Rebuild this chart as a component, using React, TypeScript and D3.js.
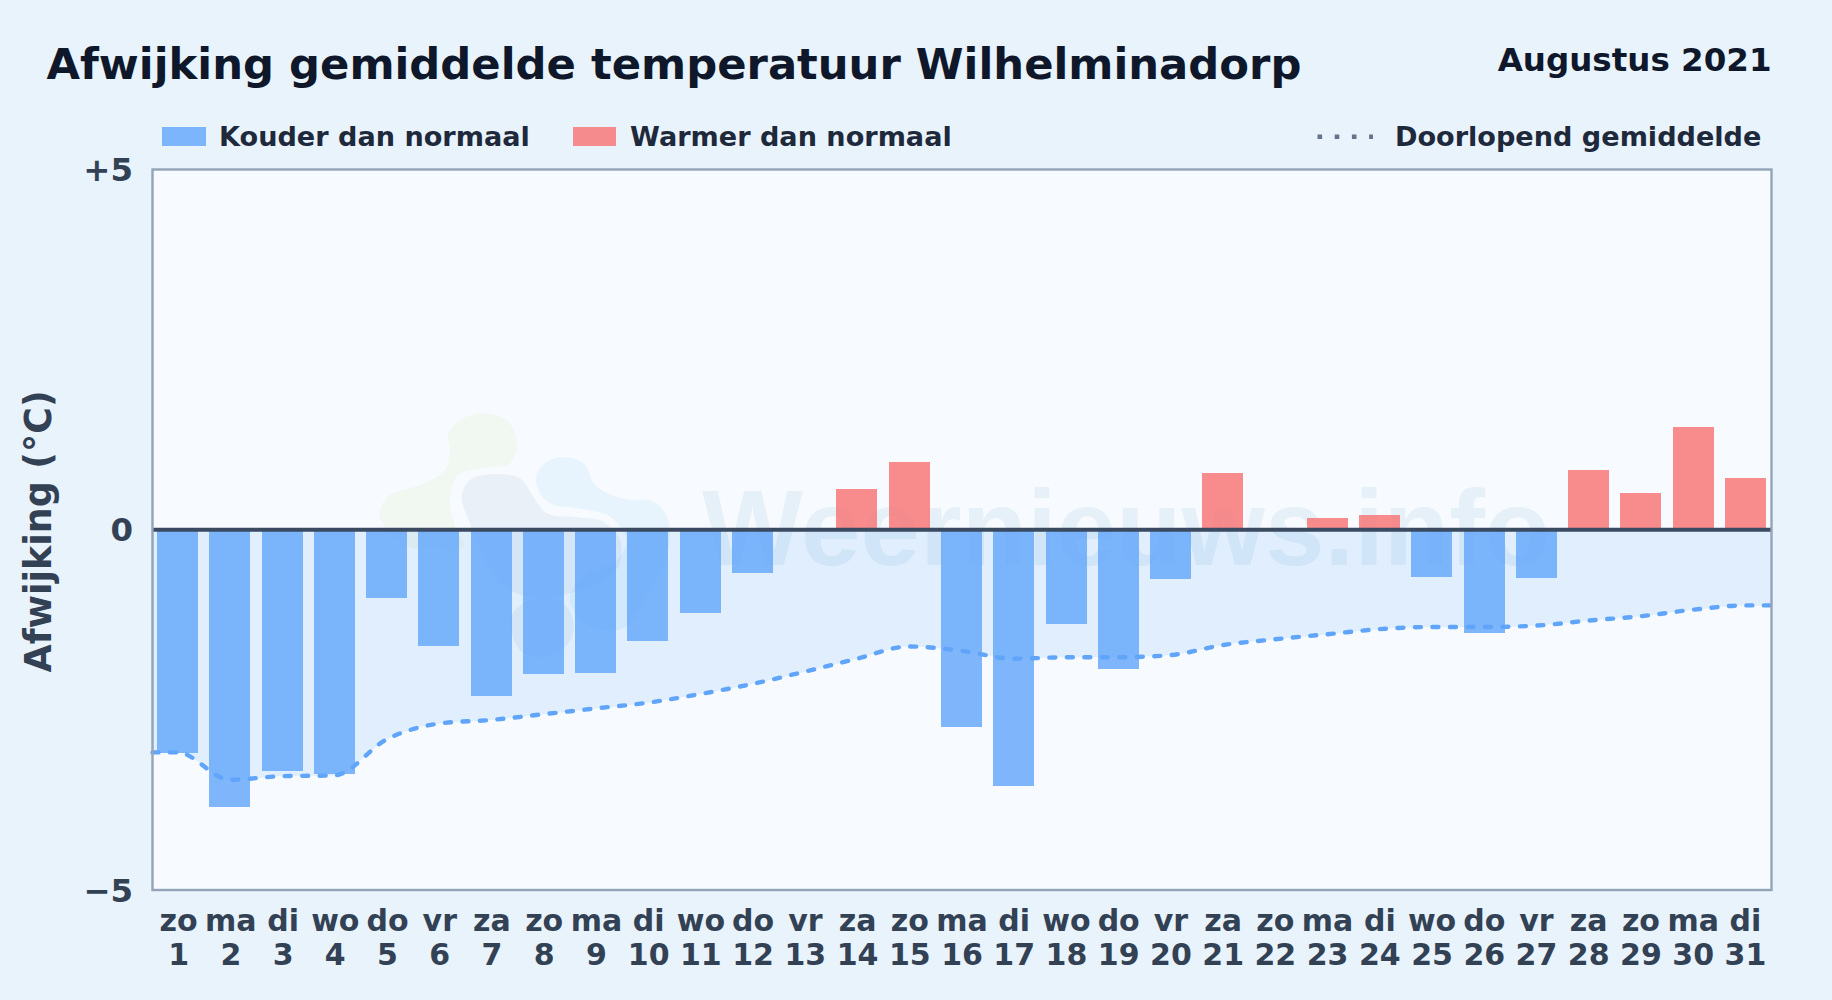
import React, { useEffect, useRef } from 'react';
import * as d3 from 'd3';

const weekdays = ['zo','ma','di','wo','do','vr','za','zo','ma','di','wo','do','vr','za','zo','ma','di','wo','do','vr','za','zo','ma','di','wo','do','vr','za','zo','ma','di'];
const days = ['1','2','3','4','5','6','7','8','9','10','11','12','13','14','15','16','17','18','19','20','21','22','23','24','25','26','27','28','29','30','31'];
const deviation = [-3.1,-3.85,-3.35,-3.39,-0.95,-1.61,-2.31,-2,-1.99,-1.54,-1.15,-0.6,0,0.57,0.94,-2.74,-3.55,-1.31,-1.93,-0.68,0.79,0,0.17,0.21,-0.65,-1.43,-0.67,0.83,0.51,1.43,0.72];
// doorlopend gemiddelde
const running = [-3.09,-3.47,-3.42,-3.41,-2.91,-2.69,-2.64,-2.56,-2.48,-2.4,-2.28,-2.14,-1.97,-1.79,-1.62,-1.68,-1.79,-1.77,-1.77,-1.74,-1.6,-1.52,-1.45,-1.38,-1.35,-1.35,-1.33,-1.26,-1.2,-1.11,-1.05];
const yTicks = [-5, 0, 5];
const yTickLabels = ['\u22125', '0', '+5'];

// watermerk logo, omtrek in pixels rond (370,400) x3
const logoYellow: [number, number][] = [[235,100],[270,60],[335,40],[410,60],[442,130],[420,190],[330,205],[265,225],[240,290],[255,380],[280,440],[180,445],[115,440],[60,400],[28,340],[60,285],[150,255],[225,210],[240,150]];
const logoGrey: [number, number][] = [[275,290],[300,240],[370,222],[450,235],[490,290],[530,340],[620,352],[700,365],[750,420],[745,500],[680,550],[580,585],[470,590],[380,540],[340,470],[300,370]];
const logoBlue: [number, number][] = [[500,225],[530,185],[585,172],[640,190],[680,260],[770,298],[850,305],[895,360],[890,470],[830,590],[770,680],[700,690],[630,660],[600,590],[640,530],[740,480],[770,420],[720,350],[620,325],[540,310],[505,270]];
const logoBottom: [number, number][] = [[420,660],[460,610],[530,595],[590,620],[612,680],[590,735],[520,770],[455,755]];

const App: React.FC = () => {
  const ref = useRef<SVGSVGElement>(null);

  useEffect(() => {
    const width = 1832;
    const height = 1000;
    const plot = { left: 152.5, right: 1771.5, top: 169.5, bottom: 890 };
    const font = '"DejaVu Sans", sans-serif';

    const svg = d3.select(ref.current!);
    svg.selectAll('*').remove();

    svg.append('rect').attr('width', width).attr('height', height).attr('fill', '#e8f3fc');

    const xScale = d3
      .scaleBand<string>()
      .domain(days)
      .range([151.4, 1771.6])
      .paddingInner(0.215)
      .paddingOuter(0.1075);
    // labels staan op de plotbreedte
    const xLabels = d3.scaleBand<string>().domain(days).range([plot.left, plot.right]);
    const yScale = d3.scaleLinear().domain([-5, 5]).range([plot.bottom, plot.top]);
    const center = (d: string) => xScale(d)! + xScale.bandwidth() / 2;

    svg
      .append('rect')
      .attr('x', plot.left)
      .attr('y', plot.top)
      .attr('width', plot.right - plot.left)
      .attr('height', plot.bottom - plot.top)
      .attr('fill', '#f7fbff');

    // watermerk, onder de balken
    const wm = svg.append('g').attr('pointer-events', 'none');
    const logo = wm.append('g').attr('transform', 'translate(370,400) scale(0.3333)');
    const blob = d3.line().curve(d3.curveCatmullRomClosed.alpha(0.5));
    logo.append('path').attr('d', blob(logoYellow)).attr('fill', '#a3c93a').attr('fill-opacity', 0.07);
    logo.append('path').attr('d', blob(logoBlue)).attr('fill', '#38a3f0').attr('fill-opacity', 0.08);
    logo.append('path').attr('d', blob(logoGrey)).attr('fill', '#1e4a8a').attr('fill-opacity', 0.06);
    logo.append('path').attr('d', blob(logoBottom)).attr('fill', '#1e4a8a').attr('fill-opacity', 0.06);
    wm.append('text')
      .attr('x', 702)
      .attr('y', 565)
      .attr('font-family', '"Liberation Sans", sans-serif')
      .attr('font-weight', 700)
      .attr('font-size', 107)
      .attr('fill', '#0369a1')
      .attr('fill-opacity', 0.07)
      .text('Weernieuws.info');

    // doorlopend gemiddelde loopt door tot de randen
    const runX = [plot.left, ...days.map(center), plot.right];
    const runV = [running[0], ...running, running[running.length - 1]];
    const runPts = runX.map((x, i) => [x, runV[i]] as [number, number]);

    const area = d3
      .area<[number, number]>()
      .x((d) => d[0])
      .y0(yScale(0))
      .y1((d) => yScale(d[1]))
      .curve(d3.curveMonotoneX);
    svg.append('path').attr('d', area(runPts)).attr('fill', '#60a5fa').attr('fill-opacity', 0.15);

    svg
      .append('g')
      .selectAll('rect')
      .data(days.filter((_, i) => deviation[i] !== 0))
      .enter()
      .append('rect')
      .attr('x', (d) => xScale(d)!)
      .attr('y', (d) => yScale(Math.max(deviation[days.indexOf(d)], 0)))
      .attr('width', xScale.bandwidth())
      .attr('height', (d) => Math.abs(yScale(deviation[days.indexOf(d)]) - yScale(0)))
      .attr('fill', (d) => (deviation[days.indexOf(d)] < 0 ? '#60a5fa' : '#f87171'))
      .attr('fill-opacity', 0.8)
      .attr('shape-rendering', 'crispEdges');

    const line = d3
      .line<[number, number]>()
      .x((d) => d[0])
      .y((d) => yScale(d[1]))
      .curve(d3.curveMonotoneX);
    svg
      .append('path')
      .attr('d', line(runPts))
      .attr('fill', 'none')
      .attr('stroke', '#60a5fa')
      .attr('stroke-width', 4.4)
      .attr('stroke-linecap', 'round')
      .attr('stroke-dasharray', '6 11.5');

    // nullijn
    svg
      .append('line')
      .attr('x1', plot.left)
      .attr('x2', plot.right)
      .attr('y1', yScale(0))
      .attr('y2', yScale(0))
      .attr('stroke', '#3a4a60')
      .attr('stroke-width', 4);

    // kader
    svg
      .append('rect')
      .attr('x', plot.left)
      .attr('y', plot.top)
      .attr('width', plot.right - plot.left)
      .attr('height', plot.bottom - plot.top)
      .attr('fill', 'none')
      .attr('stroke', '#94a3b8')
      .attr('stroke-width', 2.4);

    // assen
    const yAxis = d3
      .axisLeft(yScale)
      .tickValues(yTicks)
      .tickSize(0)
      .tickPadding(19.5)
      .tickFormat((_, i) => yTickLabels[i]);
    const yG = svg.append('g').attr('transform', `translate(${plot.left},0)`).call(yAxis);
    yG.select('.domain').remove();
    yG.selectAll('text')
      .attr('dy', 11)
      .attr('font-family', font)
      .attr('font-weight', 700)
      .attr('font-size', 32.4)
      .attr('fill', '#334155');

    const xAxis = d3.axisBottom(xLabels).tickSize(0).tickPadding(0);
    const xG = svg.append('g').attr('transform', `translate(0,${plot.bottom})`).call(xAxis);
    xG.select('.domain').remove();
    xG.selectAll<SVGTextElement, string>('text').each(function (d, i) {
      const t = d3.select(this);
      t.text(null).attr('y', 0).attr('dy', null);
      t.append('tspan').attr('x', 0).attr('y', 40.7).text(weekdays[i]);
      t.append('tspan').attr('x', 0).attr('y', 74.8).text(d);
    });
    xG.selectAll('text')
      .attr('font-family', font)
      .attr('font-weight', 700)
      .attr('font-size', 30)
      .attr('fill', '#334155');

    const label = (x: number, y: number, size: number, fill: string, txt: string, anchor = 'start') =>
      svg
        .append('text')
        .attr('x', x)
        .attr('y', y)
        .attr('font-family', font)
        .attr('font-weight', 700)
        .attr('font-size', size)
        .attr('fill', fill)
        .attr('text-anchor', anchor)
        .text(txt);

    label(46.5, 79, 43.3, '#0f172a', 'Afwijking gemiddelde temperatuur Wilhelminadorp');
    label(1771.5, 70.8, 32.5, '#0f172a', 'Augustus 2021', 'end');

    // legenda
    svg.append('rect').attr('x', 162).attr('y', 127).attr('width', 44).attr('height', 19).attr('fill', '#60a5fa').attr('fill-opacity', 0.8);
    label(219, 146, 27.1, '#1e293b', 'Kouder dan normaal');
    svg.append('rect').attr('x', 573).attr('y', 127).attr('width', 43).attr('height', 19).attr('fill', '#f87171').attr('fill-opacity', 0.8);
    label(630, 146, 27.1, '#1e293b', 'Warmer dan normaal');
    svg
      .append('line')
      .attr('x1', 1317.5)
      .attr('x2', 1373)
      .attr('y1', 136.7)
      .attr('y2', 136.7)
      .attr('stroke', '#64748b')
      .attr('stroke-width', 4.4)
      .attr('stroke-dasharray', '4.6 12.6');
    label(1395, 146, 27.1, '#1e293b', 'Doorlopend gemiddelde');

    label(0, 0, 36.4, '#334155', 'Afwijking (°C)', 'middle').attr('transform', 'translate(51,531.5) rotate(-90)');
  }, []);

  return (
    <div style={{ position: 'absolute', left: 0, top: 0 }}>
      <svg ref={ref} width={1832} height={1000} style={{ display: 'block' }} />
    </div>
  );
};

export default App;
